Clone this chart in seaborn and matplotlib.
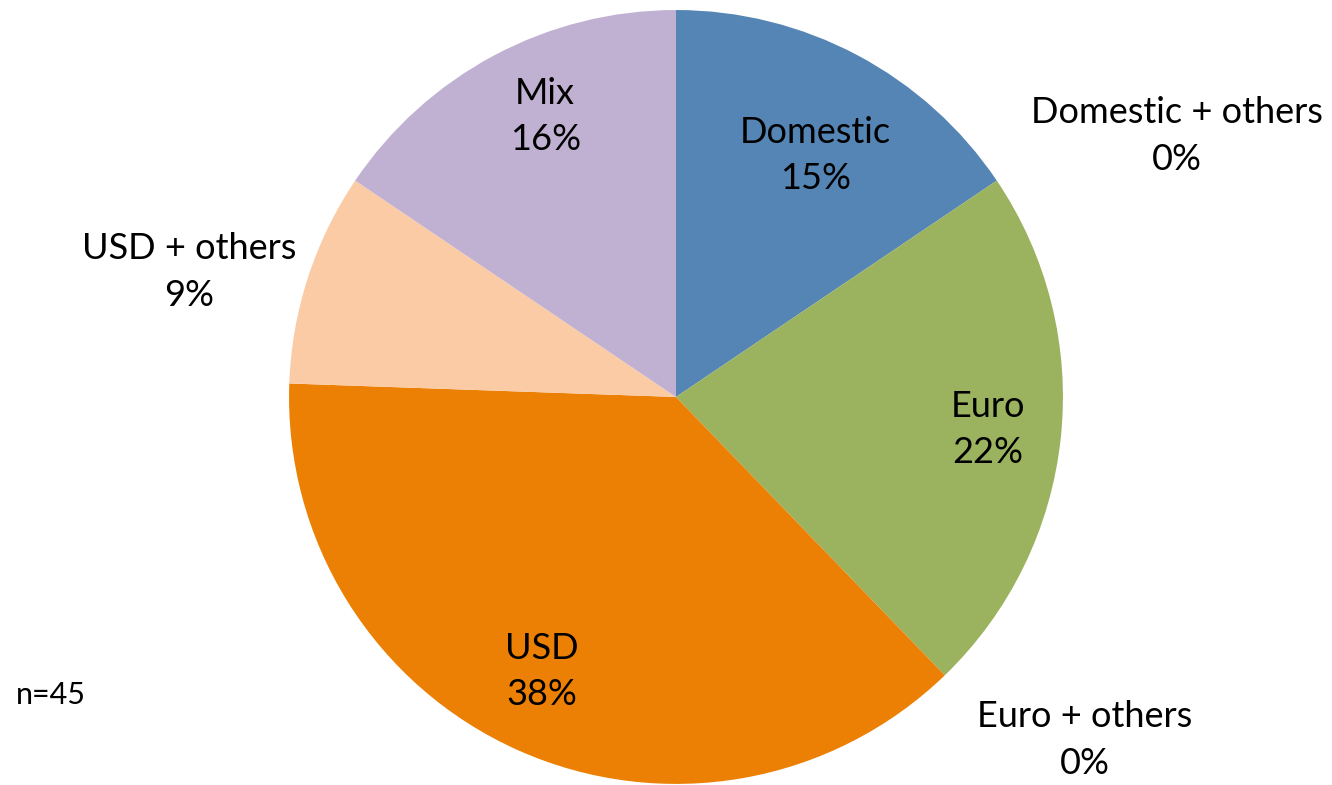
import numpy as np
import matplotlib
matplotlib.use("Agg")
import matplotlib.pyplot as plt
import seaborn as sns

sns.set_theme(style="white")
plt.rcParams['font.family'] = ['Lato', 'DejaVu Sans']

# data (counts out of n=45, labels as printed on the chart)
categories = ["Domestic", "Domestic + others", "Euro", "Euro + others",
              "USD", "USD + others", "Mix"]
counts = [7, 0, 10, 0, 17, 4, 7]
pct_labels = ["15%", "0%", "22%", "0%", "38%", "9%", "16%"]
n_total = 45

colors = ["#5585B5", "#5585B5", "#9BB25E", "#9BB25E",
          "#EC8004", "#FACBA4", "#C0B1D3"]
# label placement (radius, angular shift in degrees) per slice
label_dist = [0.72, 1.46, 0.81, 1.38, 0.79, 1.30, 0.80]
label_shift = [2, 6.5, 0, -6, 2, -3.6, 3]

fig = plt.figure(figsize=(13.32, 7.85), dpi=100)
ax = fig.add_axes([0.217, 0.0013, 0.581, 0.986])

ax.pie(counts, colors=colors, startangle=90, counterclock=False,
       radius=1.0, wedgeprops=dict(linewidth=0))
ax.set_xlim(-1, 1)
ax.set_ylim(-1, 1)
ax.set_aspect('equal')
ax.axis('off')

# mid angles (clockwise from top)
fracs = np.array(counts) / sum(counts)
ends = np.cumsum(fracs) * 360
starts = ends - fracs * 360
mids = (starts + ends) / 2

for cat, lab, m, d, s in zip(categories, pct_labels, mids, label_dist, label_shift):
    a = np.deg2rad(m + s)
    x = d * np.sin(a)
    y = d * np.cos(a)
    ax.text(x, y, f"{cat}\n{lab}", ha='center', va='center', fontsize=26,
            color='black', linespacing=1.5, clip_on=False)

fig.text(0.012, 0.103, f"n={n_total}", fontsize=22, color='black')

fig.savefig("out.png", dpi=100)
